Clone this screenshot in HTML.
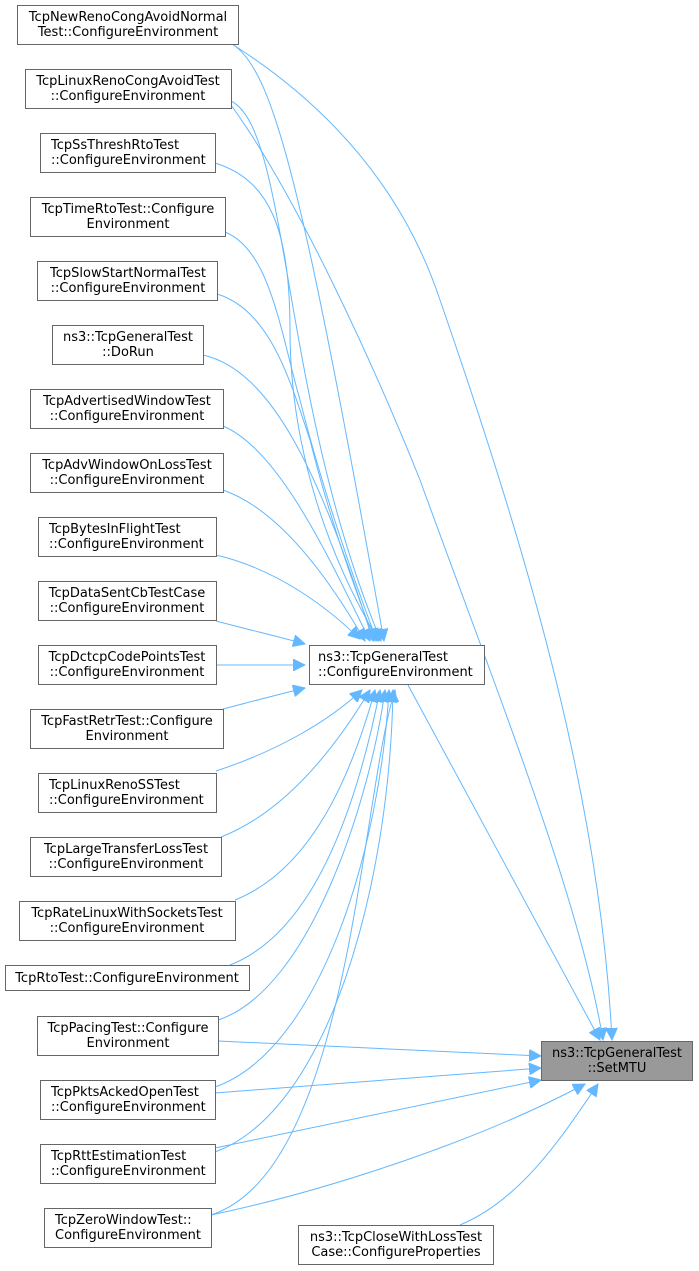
<!DOCTYPE html>
<html><head><meta charset="utf-8"><style>
html,body{margin:0;padding:0;background:#fff;}
svg{display:block;}
text{font-family:"DejaVu Sans","Liberation Sans",sans-serif;font-size:13px;fill:#000;}
rect{fill:#fff;stroke:#666;stroke-width:1;}
path.e{fill:none;stroke:#63b8ff;stroke-width:1;}
</style></head><body>
<svg width="699" height="1271" viewBox="0 0 699 1271" xmlns="http://www.w3.org/2000/svg">
<defs>
<marker id="a" markerWidth="13" markerHeight="12" refX="12" refY="6" orient="auto" markerUnits="userSpaceOnUse">
<path d="M0,0 L12,6 L0,12 Z" fill="#63b8ff" stroke="#63b8ff"/>
</marker>
</defs>
<g marker-end="url(#a)">
<path class="e" d="M232,44 C275,70 305,200 384,641"/>
<path class="e" d="M231,101 C290,130 280,400 381,641"/>
<path class="e" d="M215,163 C270,180 290,230 290,330 C290,450 330,560 379,641"/>
<path class="e" d="M225,232 C270,250 280,330 300,400 C320,480 350,570 377,641"/>
<path class="e" d="M217,294 C270,310 290,380 310,440 C330,520 355,590 375,641"/>
<path class="e" d="M203,355 C270,370 320,470 373,641"/>
<path class="e" d="M223,426 C280,450 330,560 370,641"/>
<path class="e" d="M223,490 C280,510 330,580 365,641"/>
<path class="e" d="M216,555 C280,570 330,610 360,639"/>
<path class="e" d="M216,621 C250,630 280,637 305,644"/>
<path class="e" d="M216,665 L305,665"/>
<path class="e" d="M223,709 C250,702 280,694 305,688"/>
<path class="e" d="M216,771 C280,750 330,720 362,690"/>
<path class="e" d="M221,837 C290,810 340,740 370,690"/>
<path class="e" d="M235,900 C310,870 350,780 375,690"/>
<path class="e" d="M230,965 C320,930 360,790 380,690"/>
<path class="e" d="M218,1020 C310,990 370,800 385,690"/>
<path class="e" d="M215,1087 C320,1050 380,850 389,690"/>
<path class="e" d="M215,1152 C330,1110 390,880 393,690"/>
<path class="e" d="M211,1215 C350,1170 360,800 395,690"/>
<path class="e" d="M232,44 C320,100 400,180 440,300 C530,560 600,800 612,1040"/>
<path class="e" d="M231,105 C300,200 380,380 420,480 C500,700 580,900 603,1040"/>
<path class="e" d="M408,685 L600,1040"/>
<path class="e" d="M218,1041 L541,1056"/>
<path class="e" d="M215,1093 L541,1068"/>
<path class="e" d="M215,1148 L541,1080"/>
<path class="e" d="M211,1215 C330,1190 480,1140 585,1084"/>
<path class="e" d="M460,1225 C520,1200 560,1140 598,1084"/>
</g>
<g>
<rect x="17.5" y="5.5" width="221" height="39"/><text x="128" y="21" text-anchor="middle">TcpNewRenoCongAvoidNormal</text><text x="128" y="36" text-anchor="middle">Test::ConfigureEnvironment</text>
<rect x="25.5" y="69.5" width="206" height="39"/><text x="128" y="85" text-anchor="middle">TcpLinuxRenoCongAvoidTest</text><text x="128" y="100" text-anchor="middle">::ConfigureEnvironment</text>
<rect x="40.5" y="133.5" width="175" height="39"/><text x="51" y="149">TcpSsThreshRtoTest</text><text x="51" y="164">::ConfigureEnvironment</text>
<rect x="30.5" y="197.5" width="195" height="39"/><text x="128" y="213" text-anchor="middle">TcpTimeRtoTest::Configure</text><text x="128" y="228" text-anchor="middle">Environment</text>
<rect x="37.5" y="261.5" width="180" height="39"/><text x="128" y="277" text-anchor="middle">TcpSlowStartNormalTest</text><text x="128" y="292" text-anchor="middle">::ConfigureEnvironment</text>
<rect x="52.5" y="325.5" width="151" height="39"/><text x="63" y="341">ns3::TcpGeneralTest</text><text x="128" y="356" text-anchor="middle">::DoRun</text>
<rect x="30.5" y="389.5" width="193" height="39"/><text x="127" y="405" text-anchor="middle">TcpAdvertisedWindowTest</text><text x="127" y="420" text-anchor="middle">::ConfigureEnvironment</text>
<rect x="30.5" y="453.5" width="193" height="39"/><text x="127" y="469" text-anchor="middle">TcpAdvWindowOnLossTest</text><text x="127" y="484" text-anchor="middle">::ConfigureEnvironment</text>
<rect x="38.5" y="517.5" width="178" height="39"/><text x="49" y="533">TcpBytesInFlightTest</text><text x="49" y="548">::ConfigureEnvironment</text>
<rect x="38.5" y="581.5" width="178" height="39"/><text x="127" y="597" text-anchor="middle">TcpDataSentCbTestCase</text><text x="127" y="612" text-anchor="middle">::ConfigureEnvironment</text>
<rect x="38.5" y="645.5" width="178" height="39"/><text x="127" y="661" text-anchor="middle">TcpDctcpCodePointsTest</text><text x="127" y="676" text-anchor="middle">::ConfigureEnvironment</text>
<rect x="30.5" y="709.5" width="193" height="39"/><text x="127" y="725" text-anchor="middle">TcpFastRetrTest::Configure</text><text x="127" y="740" text-anchor="middle">Environment</text>
<rect x="38.5" y="773.5" width="178" height="39"/><text x="49" y="789">TcpLinuxRenoSSTest</text><text x="49" y="804">::ConfigureEnvironment</text>
<rect x="30.5" y="837.5" width="191" height="39"/><text x="126" y="853" text-anchor="middle">TcpLargeTransferLossTest</text><text x="126" y="868" text-anchor="middle">::ConfigureEnvironment</text>
<rect x="19.5" y="901.5" width="216" height="39"/><text x="127" y="917" text-anchor="middle">TcpRateLinuxWithSocketsTest</text><text x="127" y="932" text-anchor="middle">::ConfigureEnvironment</text>
<rect x="5.5" y="965.5" width="244" height="25"/><text x="127" y="982" text-anchor="middle">TcpRtoTest::ConfigureEnvironment</text>
<rect x="37.5" y="1016.5" width="181" height="39"/><text x="128" y="1032" text-anchor="middle">TcpPacingTest::Configure</text><text x="128" y="1047" text-anchor="middle">Environment</text>
<rect x="40.5" y="1080.5" width="175" height="39"/><text x="51" y="1096">TcpPktsAckedOpenTest</text><text x="51" y="1111">::ConfigureEnvironment</text>
<rect x="40.5" y="1144.5" width="175" height="39"/><text x="51" y="1160">TcpRttEstimationTest</text><text x="51" y="1175">::ConfigureEnvironment</text>
<rect x="44.5" y="1208.5" width="167" height="39"/><text x="55" y="1224">TcpZeroWindowTest::</text><text x="55" y="1239">ConfigureEnvironment</text>
<rect x="298.5" y="1225.5" width="195" height="39"/><text x="396" y="1241" text-anchor="middle">ns3::TcpCloseWithLossTest</text><text x="396" y="1256" text-anchor="middle">Case::ConfigureProperties</text>
<rect x="309.5" y="645.5" width="175" height="39"/><text x="318" y="661">ns3::TcpGeneralTest</text><text x="318" y="676">::ConfigureEnvironment</text>
<rect x="541.5" y="1041.5" width="151" height="39" style="fill:#999;"/><text x="617" y="1057" text-anchor="middle">ns3::TcpGeneralTest</text><text x="617" y="1072" text-anchor="middle">::SetMTU</text>
</g>
</svg>
</body></html>
